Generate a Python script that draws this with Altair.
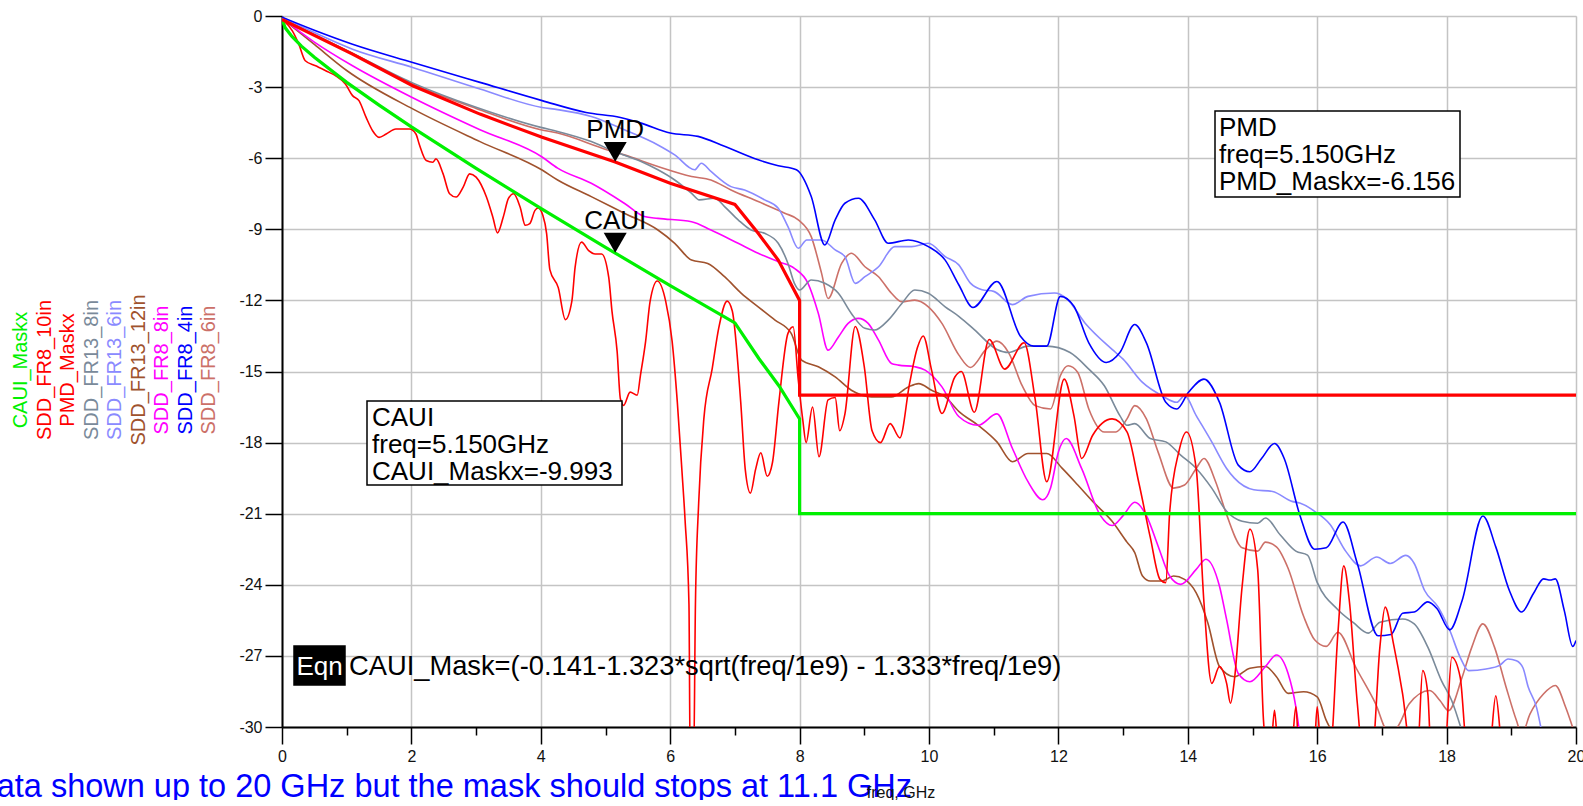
import altair as alt
import pandas as pd

# ---------------- data ----------------
freq_ticks = list(range(0, 21))
db_ticks = [-30 + 1.5 * i for i in range(21)]

caui_mask = [(0, -0.14), (0.05, -0.5), (0.15, -0.85), (0.3, -1.27), (0.5, -1.74), (1, -2.8),
             (1.5, -3.76), (2, -4.68), (3, -6.43), (4, -8.12), (5, -9.76), (6, -11.38),
             (7, -12.95), (7.37, -14.45), (7.68, -15.6), (8.0, -17.0), (8.0, -21.0), (20, -21.0)]

pmd_mask = [(0, -0.15), (0.57, -0.91), (1.09, -1.61), (2.02, -2.94), (3.06, -4.14), (4.02, -5.12),
            (5.15, -6.156), (6.0, -7.06), (7.0, -7.95), (7.36, -9.17), (7.67, -10.3),
            (8.0, -12.0), (8.0, -16.0), (20, -16.0)]

sdd_fr8_10in = [(0, -0.14), (0.16, -0.63), (0.26, -1.19), (0.36, -1.89), (0.52, -2.1), (0.73, -2.38),
                (0.83, -2.52), (0.98, -2.87), (1.09, -3.36), (1.19, -3.57), (1.3, -4.28), (1.4, -4.84),
                (1.5, -5.12), (1.61, -4.98), (1.76, -4.77), (1.97, -4.77), (2.07, -4.98), (2.12, -5.4),
                (2.23, -6.1), (2.33, -6.17), (2.38, -6.03), (2.49, -6.66), (2.59, -7.5), (2.69, -7.64),
                (2.8, -7.22), (2.9, -6.66), (3.0, -6.8), (3.16, -7.64), (3.26, -8.5), (3.33, -9.15),
                (3.42, -8.48), (3.5, -7.7), (3.58, -7.5), (3.68, -8.06), (3.76, -8.83), (3.83, -8.76),
                (3.91, -8.2), (3.96, -8.1), (4.03, -8.4), (4.09, -9.18), (4.14, -10.7), (4.27, -11.46),
                (4.38, -12.81), (4.48, -12.03), (4.53, -10.61), (4.63, -9.54), (4.74, -9.9), (4.84, -10.04),
                (4.94, -10.04), (5.05, -11.03), (5.1, -12.45), (5.18, -14.16), (5.23, -16.15), (5.28, -16.43),
                (5.38, -15.87), (5.49, -16.0), (5.54, -15.16), (5.62, -13.73), (5.69, -12.03), (5.8, -11.18),
                (5.93, -12.03), (6.03, -13.73), (6.11, -16.29), (6.18, -19.13), (6.23, -21.27), (6.29, -24.82),
                (6.31, -32), (6.36, -32), (6.39, -24.82), (6.44, -20.56), (6.52, -17.0), (6.65, -14.87),
                (6.75, -13.17), (6.88, -12.03), (6.96, -12.45), (7.09, -16.29), (7.16, -19.13), (7.24, -20.13),
                (7.32, -19.13), (7.4, -18.43), (7.5, -19.42), (7.58, -18.85), (7.68, -16.29), (7.82, -13.39),
                (7.9, -13.11), (7.98, -15.37), (8.05, -17.06), (8.1, -18.0), (8.2, -16.5), (8.3, -18.6),
                (8.44, -16.2), (8.55, -16.1), (8.62, -17.5), (8.7, -16.8), (8.86, -13.1), (9.0, -14.8),
                (9.12, -17.5), (9.25, -18.0), (9.4, -17.2), (9.55, -17.8), (9.7, -15.5), (9.82, -14.0),
                (9.91, -13.5), (10.04, -14.94), (10.2, -16.77), (10.4, -15.23), (10.5, -15.0), (10.7, -16.72),
                (10.93, -13.65), (11.17, -14.9), (11.47, -13.79), (11.64, -16.16), (11.82, -19.65),
                (12.09, -15.32), (12.24, -16.86), (12.36, -18.67), (12.53, -17.69), (12.83, -17.0),
                (13.06, -17.55), (13.24, -19.65), (13.42, -22.0), (13.57, -23.77), (13.66, -23.91),
                (13.72, -20.94), (13.86, -18.4), (13.98, -17.55), (14.13, -19.1), (14.25, -24.76),
                (14.37, -28.16), (14.49, -27.45), (14.6, -28.16), (14.66, -29.0), (14.72, -28.02),
                (14.84, -24.06), (14.96, -21.65), (15.08, -23.35), (15.17, -29.72), (15.22, -31),
                (15.28, -31), (15.34, -29.3), (15.4, -31), (15.6, -31), (15.67, -29.15), (15.72, -31),
                (15.95, -31), (16.0, -29.15), (16.06, -31), (16.2, -31), (16.32, -26.04), (16.41, -23.2),
                (16.5, -24.76), (16.62, -29.0), (16.7, -31), (16.85, -31), (16.97, -26.6), (17.05, -24.94),
                (17.18, -26.5), (17.32, -28.6), (17.45, -31), (17.55, -31), (17.63, -27.62), (17.71, -28.6),
                (17.76, -31), (17.97, -31), (18.08, -27.06), (18.21, -27.9), (18.32, -31), (18.66, -31),
                (18.76, -28.68), (18.87, -31), (20, -31)]

sdd_fr13_8in = [(0, -0.1), (0.5, -0.8), (1, -1.45), (2, -2.8), (3, -3.85), (4, -4.7), (4.26, -4.87),
                (4.78, -5.3), (5.14, -5.72), (5.55, -6.14), (5.81, -6.49), (6.07, -6.92), (6.33, -7.48),
                (6.45, -7.76), (6.69, -7.69), (6.84, -8.04), (7.05, -8.6), (7.25, -9.03), (7.46, -9.17),
                (7.67, -9.59), (7.82, -10.44), (7.92, -11.28), (8.0, -11.56), (8.18, -11.14), (8.39, -11.28),
                (8.6, -11.7), (8.8, -12.55), (9.01, -13.18), (9.16, -13.25), (9.37, -12.83), (9.58, -12.13),
                (9.78, -11.56), (9.99, -11.7), (10.25, -12.27), (10.46, -12.67), (10.7, -13.23),
                (11.05, -14.07), (11.23, -14.2), (11.53, -13.93), (11.82, -13.93), (12.18, -14.2),
                (12.47, -14.9), (12.71, -15.6), (12.95, -16.86), (13.06, -17.27), (13.18, -17.2),
                (13.42, -17.83), (13.66, -17.97), (13.89, -18.53), (14.13, -19.09), (14.37, -19.92),
                (14.6, -20.9), (14.84, -21.32), (15.08, -21.4), (15.2, -21.18), (15.43, -21.9),
                (15.67, -22.58), (15.85, -22.75), (16.0, -23.9), (16.32, -25.05), (16.56, -25.6),
                (16.79, -26.04), (16.97, -25.58), (17.32, -25.44), (17.5, -25.65), (17.71, -26.63),
                (17.92, -28.04), (18.08, -28.89), (18.21, -29.94), (18.3, -30.8)]

sdd_fr13_6in = [(0, -0.05), (0.5, -0.7), (1.09, -1.4), (2.02, -2.17), (3.06, -3.08), (4.02, -3.86),
                (4.26, -3.95), (4.78, -4.24), (5.29, -4.8), (5.81, -5.44), (6.07, -5.86), (6.38, -6.49),
                (6.48, -6.21), (6.63, -6.56), (6.94, -7.2), (7.15, -7.34), (7.46, -7.76), (7.67, -8.11),
                (7.82, -8.89), (7.98, -9.8), (8.11, -9.45), (8.34, -9.45), (8.55, -9.87), (8.7, -10.15),
                (8.86, -11.28), (9.01, -11.0), (9.22, -10.58), (9.47, -9.73), (9.73, -9.73), (9.99, -9.59),
                (10.25, -10.15), (10.46, -10.5), (10.64, -11.27), (10.82, -11.55), (11.0, -11.62),
                (11.29, -12.18), (11.53, -11.83), (11.94, -11.69), (12.12, -11.9), (12.41, -12.95),
                (12.83, -14.07), (13.0, -14.48), (13.3, -15.46), (13.6, -16.02), (13.83, -16.3),
                (13.95, -16.02), (14.13, -16.86), (14.37, -17.97), (14.6, -19.09), (14.72, -19.5),
                (15.02, -19.99), (15.31, -20.06), (15.61, -20.48), (15.73, -20.55), (15.96, -20.9),
                (16.2, -21.46), (16.44, -22.58), (16.67, -23.2), (16.92, -22.83), (17.13, -23.1),
                (17.37, -22.76), (17.5, -23.1), (17.66, -24.24), (17.87, -24.94), (18.05, -25.93),
                (18.21, -27.06), (18.34, -27.62), (18.61, -27.55), (18.82, -27.4), (18.95, -27.13),
                (19.08, -27.2), (19.18, -27.5), (19.26, -28.3), (19.39, -29.17), (19.47, -30.2)]

sdd_fr13_12in = [(0, -0.1), (0.5, -1.2), (1, -2.3), (2.02, -3.92), (3.06, -5.3), (4.02, -6.5),
                 (4.26, -6.92), (4.78, -7.62), (5.29, -8.32), (5.81, -9.03), (6.07, -9.59), (6.33, -10.3),
                 (6.58, -10.44), (6.84, -11.0), (7.1, -11.7), (7.36, -12.27), (7.62, -12.83), (7.87, -13.39),
                 (8.03, -14.52), (8.29, -14.8), (8.55, -15.23), (8.8, -15.79), (9.11, -16.07), (9.42, -16.07),
                 (9.68, -15.65), (9.84, -15.51), (10.04, -15.79), (10.25, -16.07), (10.46, -16.68),
                 (10.76, -17.27), (11.05, -17.97), (11.29, -18.81), (11.53, -18.46), (11.82, -18.46),
                 (12.06, -19.09), (12.3, -19.79), (12.53, -20.48), (12.83, -21.32), (13.06, -22.2),
                 (13.18, -22.64), (13.3, -23.63), (13.42, -23.84), (13.6, -23.84), (13.78, -23.63),
                 (13.95, -23.77), (14.13, -24.34), (14.31, -25.61), (14.49, -27.45), (14.72, -27.88),
                 (14.96, -27.52), (15.2, -27.45), (15.37, -27.88), (15.55, -28.58), (15.79, -28.51),
                 (16.0, -28.73), (16.14, -29.72), (16.25, -30.3)]

sdd_fr8_8in = [(0, -0.1), (0.5, -1.1), (1.09, -2.1), (2.02, -3.45), (3.06, -4.8), (4.02, -5.95),
               (4.26, -6.42), (4.78, -7.06), (5.29, -7.9), (5.6, -8.46), (5.81, -8.54), (6.33, -8.68),
               (6.63, -9.03), (7.05, -9.59), (7.36, -10.01), (7.67, -10.37), (7.92, -10.65), (8.13, -11.28),
               (8.29, -12.55), (8.44, -14.1), (8.6, -13.54), (8.75, -12.97), (8.91, -12.76), (9.06, -12.97),
               (9.22, -13.68), (9.42, -14.66), (9.53, -14.73), (9.78, -14.8), (9.94, -14.94), (10.2, -15.65),
               (10.46, -16.9), (10.76, -17.27), (11.05, -16.79), (11.29, -18.25), (11.53, -19.65),
               (11.76, -20.41), (11.88, -19.9), (12.0, -18.4), (12.12, -17.83), (12.36, -19.1),
               (12.65, -21.08), (12.83, -21.5), (13.0, -21.08), (13.18, -20.52), (13.36, -21.08),
               (13.54, -22.36), (13.72, -23.63), (13.89, -23.98), (14.13, -23.35), (14.28, -22.92),
               (14.49, -24.06), (14.6, -25.47), (14.78, -27.74), (14.96, -28.09), (15.2, -27.45),
               (15.37, -26.96), (15.55, -27.74), (15.67, -29.15), (15.73, -30.3)]

sdd_fr8_4in = [(0, -0.05), (0.5, -0.6), (1.09, -1.19), (2.02, -1.96), (3.06, -2.8), (4.02, -3.57),
               (4.7, -4.07), (5.23, -4.28), (5.55, -4.52), (6.0, -4.94), (6.43, -5.08), (6.84, -5.5),
               (7.36, -6.07), (7.67, -6.32), (7.95, -6.49), (8.18, -7.62), (8.39, -9.66), (8.55, -8.6),
               (8.7, -7.9), (8.91, -7.69), (9.16, -8.6), (9.37, -9.59), (9.68, -9.45), (9.99, -9.73),
               (10.25, -10.3), (10.46, -11.34), (10.68, -12.3), (11.05, -11.2), (11.41, -13.5),
               (11.62, -13.93), (11.82, -13.93), (12.03, -11.83), (12.24, -12.25), (12.47, -13.79),
               (12.74, -14.62), (12.95, -14.2), (13.18, -13.02), (13.36, -13.79), (13.66, -16.3),
               (13.83, -16.58), (14.01, -15.88), (14.25, -15.32), (14.49, -16.3), (14.78, -18.95),
               (14.96, -19.23), (15.14, -18.67), (15.34, -18.04), (15.49, -18.67), (15.73, -21.04),
               (15.96, -22.5), (16.14, -22.44), (16.4, -21.35), (16.62, -23.1), (16.94, -26.15),
               (17.14, -26.1), (17.32, -25.2), (17.5, -25.15), (17.71, -24.72), (17.85, -25.0),
               (18.05, -25.9), (18.24, -24.66), (18.56, -21.1), (18.76, -22.4), (18.97, -24.24),
               (19.16, -25.15), (19.34, -24.38), (19.5, -23.75), (19.6, -23.8), (19.68, -23.75),
               (19.82, -25.1), (19.95, -26.6), (20.0, -26.35)]

sdd_fr8_6in = [(0, -0.1), (1, -1.45), (2, -2.85), (3, -3.9), (4, -4.8), (4.26, -4.94), (5.03, -5.65),
               (5.29, -5.86), (5.81, -6.35), (6.33, -6.77), (6.63, -6.92), (6.94, -7.34), (7.36, -7.83),
               (7.77, -8.32), (7.98, -8.6), (8.18, -9.31), (8.34, -10.86), (8.44, -11.92), (8.65, -10.44),
               (8.8, -10.01), (9.01, -10.58), (9.22, -11.0), (9.42, -11.7), (9.58, -12.06), (9.78, -11.99),
               (9.99, -12.27), (10.2, -12.97), (10.46, -14.3), (10.64, -14.83), (10.88, -14.07),
               (11.05, -13.72), (11.23, -14.2), (11.44, -15.6), (11.64, -16.44), (11.88, -16.58),
               (12.03, -15.18), (12.15, -14.76), (12.3, -15.04), (12.47, -16.58), (12.71, -17.55),
               (12.89, -17.55), (13.06, -17.0), (13.18, -16.44), (13.36, -17.0), (13.54, -18.39),
               (13.78, -19.92), (13.95, -19.79), (14.13, -19.09), (14.25, -18.67), (14.43, -19.65),
               (14.6, -21.04), (14.84, -22.44), (15.08, -22.58), (15.2, -22.2), (15.37, -22.4),
               (15.55, -23.3), (15.79, -25.33), (15.96, -26.32), (16.14, -26.6), (16.32, -26.0),
               (16.6, -27.5), (16.9, -29.0), (17.1, -30.2), (17.24, -30.0), (17.42, -29.03),
               (17.74, -28.46), (17.9, -28.89), (18.03, -29.31), (18.24, -27.9), (18.39, -26.63),
               (18.56, -25.65), (18.74, -26.63), (18.92, -28.32), (19.08, -29.73), (19.16, -30.3),
               (19.29, -29.45), (19.5, -28.6), (19.68, -28.25), (19.84, -29.17), (19.97, -30.2)]

legend_names = ["CAUI_Maskx", "SDD_FR8_10in", "PMD_Maskx", "SDD_FR13_8in", "SDD_FR13_6in",
                "SDD_FR13_12in", "SDD_FR8_8in", "SDD_FR8_4in", "SDD_FR8_6in"]
legend_colors = ["#00F000", "#FF0000", "#FF0000", "#7A8A9A", "#8A8AFF",
                 "#A0522D", "#FF00FF", "#0000FF", "#CC7068"]

marker_freq = [5.15, 5.15]
marker_db = [-6.156, -9.993]
marker_names = ["PMD", "CAUI"]

pmd_box_lines = ["PMD", "freq=5.150GHz", "PMD_Maskx=-6.156"]
caui_box_lines = ["CAUI", "freq=5.150GHz", "CAUI_Maskx=-9.993"]
eqn_text = "CAUI_Mask=(-0.141-1.323*sqrt(freq/1e9) - 1.333*freq/1e9)"
note_text = "Data shown up to 20 GHz but the mask should stops at 11.1 GHz"

# ---------------- build tables ----------------
thin_series = {"SDD_FR8_6in": sdd_fr8_6in, "SDD_FR13_12in": sdd_fr13_12in, "SDD_FR8_8in": sdd_fr8_8in,
               "SDD_FR13_8in": sdd_fr13_8in, "SDD_FR13_6in": sdd_fr13_6in, "SDD_FR8_4in": sdd_fr8_4in,
               "SDD_FR8_10in": sdd_fr8_10in}
mask_series = {"CAUI_Maskx": caui_mask, "PMD_Maskx": pmd_mask}


def to_df(d):
    rows = []
    for name, pts in d.items():
        for i, (f, v) in enumerate(pts):
            rows.append({"series": name, "freq": f, "db": v, "ord": i})
    return pd.DataFrame(rows)


df_thin = to_df(thin_series)
df_mask = to_df(mask_series)
df_mk = pd.DataFrame({"freq": marker_freq, "db": marker_db, "name": marker_names})

FONT = "Liberation Sans"
W, H = 1294, 711
OX, OY = 282, 16

xs = alt.Scale(domain=[0, 20], nice=False, zero=False)
ys = alt.Scale(domain=[-30, 0], nice=False, zero=False)
cs = alt.Scale(domain=legend_names, range=legend_colors)

x_axis = alt.Axis(
    values=freq_ticks, title=None,
    labelExpr="datum.value % 2 === 0 ? '' + datum.value : ''",
    grid=True, gridColor="#C4C4C4", gridWidth=1.5,
    gridOpacity={"condition": {"test": "datum.value % 2 === 0", "value": 1}, "value": 0},
    tickSize={"condition": {"test": "datum.value % 2 === 0", "value": 17}, "value": 8},
    tickColor="black", tickWidth=1.5, domainColor="black", domainWidth=2,
    labelFont=FONT, labelFontSize=16, labelColor="#111", labelPadding=4, labelFlush=False,
)
y_axis = alt.Axis(
    values=db_ticks, title=None,
    labelExpr="datum.value % 3 === 0 ? '' + datum.value : ''",
    grid=True, gridColor="#C4C4C4", gridWidth=1.5,
    gridOpacity={"condition": {"test": "datum.value % 3 === 0", "value": 1}, "value": 0},
    tickSize={"condition": {"test": "datum.value % 3 === 0", "value": 17}, "value": 8},
    tickColor="black", tickWidth=1.5, domainColor="black", domainWidth=2,
    labelFont=FONT, labelFontSize=16, labelColor="#111", labelPadding=3, labelFlush=False,
)

thin = alt.Chart(df_thin).mark_line(clip=True, strokeWidth=1.6, interpolate="monotone").encode(
    x=alt.X("freq:Q", scale=xs, axis=x_axis),
    y=alt.Y("db:Q", scale=ys, axis=y_axis),
    color=alt.Color("series:N", scale=cs, legend=None),
    detail="series:N",
    order="ord:Q",
)
masks = alt.Chart(df_mask).mark_line(clip=True, strokeWidth=3.2).encode(
    x=alt.X("freq:Q", scale=xs),
    y=alt.Y("db:Q", scale=ys),
    color=alt.Color("series:N", scale=cs, legend=None),
    detail="series:N",
    order="ord:Q",
)
markers = alt.Chart(df_mk).mark_point(shape="triangle-down", filled=True, color="black",
                                      size=530, opacity=1, yOffset=-10).encode(
    x=alt.X("freq:Q", scale=xs), y=alt.Y("db:Q", scale=ys))
marker_text = alt.Chart(df_mk).mark_text(font=FONT, fontSize=26, dy=-24, baseline="alphabetic",
                                         align="center", color="black").encode(
    x=alt.X("freq:Q", scale=xs), y=alt.Y("db:Q", scale=ys), text="name:N")


def box(x1, y1, x2, y2, fill="white", stroke="black"):
    return alt.Chart(df_mk.head(1)).mark_rect(fill=fill, stroke=stroke, strokeWidth=1.5).encode(
        x=alt.value(x1), x2=alt.value(x2), y=alt.value(y1), y2=alt.value(y2))


def txt(x, y, t, size=26, color="black", align="left", angle=0, baseline="alphabetic", lh=27):
    kw = dict(font=FONT, fontSize=size, color=color, align=align, baseline=baseline, lineHeight=lh)
    if angle:
        kw["angle"] = angle
    return alt.Chart(df_mk.head(1)).mark_text(**kw).encode(
        x=alt.value(x), y=alt.value(y), text=alt.value(t))


pmd_box = box(1215 - OX, 111 - OY, 1460 - OX, 197 - OY)
pmd_txt = txt(1219 - OX, 136 - OY, pmd_box_lines)
caui_box = box(367 - OX, 401 - OY, 622 - OX, 485 - OY)
caui_txt = txt(372 - OX, 426 - OY, caui_box_lines)
eqn_box = box(294 - OX, 646 - OY, 345 - OX, 685 - OY, fill="black")
eqn_lbl = txt(319.5 - OX, 675 - OY, "Eqn", color="white", align="center")
eqn_txt = txt(349 - OX, 675 - OY, eqn_text, size=27.3)
note = txt(912 - OX, 797 - OY, note_text, size=32.5, color="#0000FF", align="right")
xtitle = txt(901 - OX, 798 - OY, "freq, GHz", size=16, color="#111", align="center")

legend_layers = []
for i, (nm, col) in enumerate(zip(legend_names, legend_colors)):
    legend_layers.append(txt(21 + 23.5 * i - OX, 370 - OY, nm, size=20, color=col,
                             align="center", angle=270, baseline="middle"))

chart = alt.layer(
    thin, masks, markers, marker_text, pmd_box, pmd_txt, caui_box, caui_txt,
    eqn_box, eqn_lbl, eqn_txt, note, xtitle, *legend_layers
).properties(
    width=W, height=H,
    autosize=alt.AutoSizeParams(type="none"),
    padding={"left": OX, "top": OY, "right": 1583 - OX - W, "bottom": 800 - OY - H},
).configure_view(stroke="black", strokeWidth=1.5).configure(background="white")

chart.save("out.html", embed_options={"renderer": "svg", "actions": False})
